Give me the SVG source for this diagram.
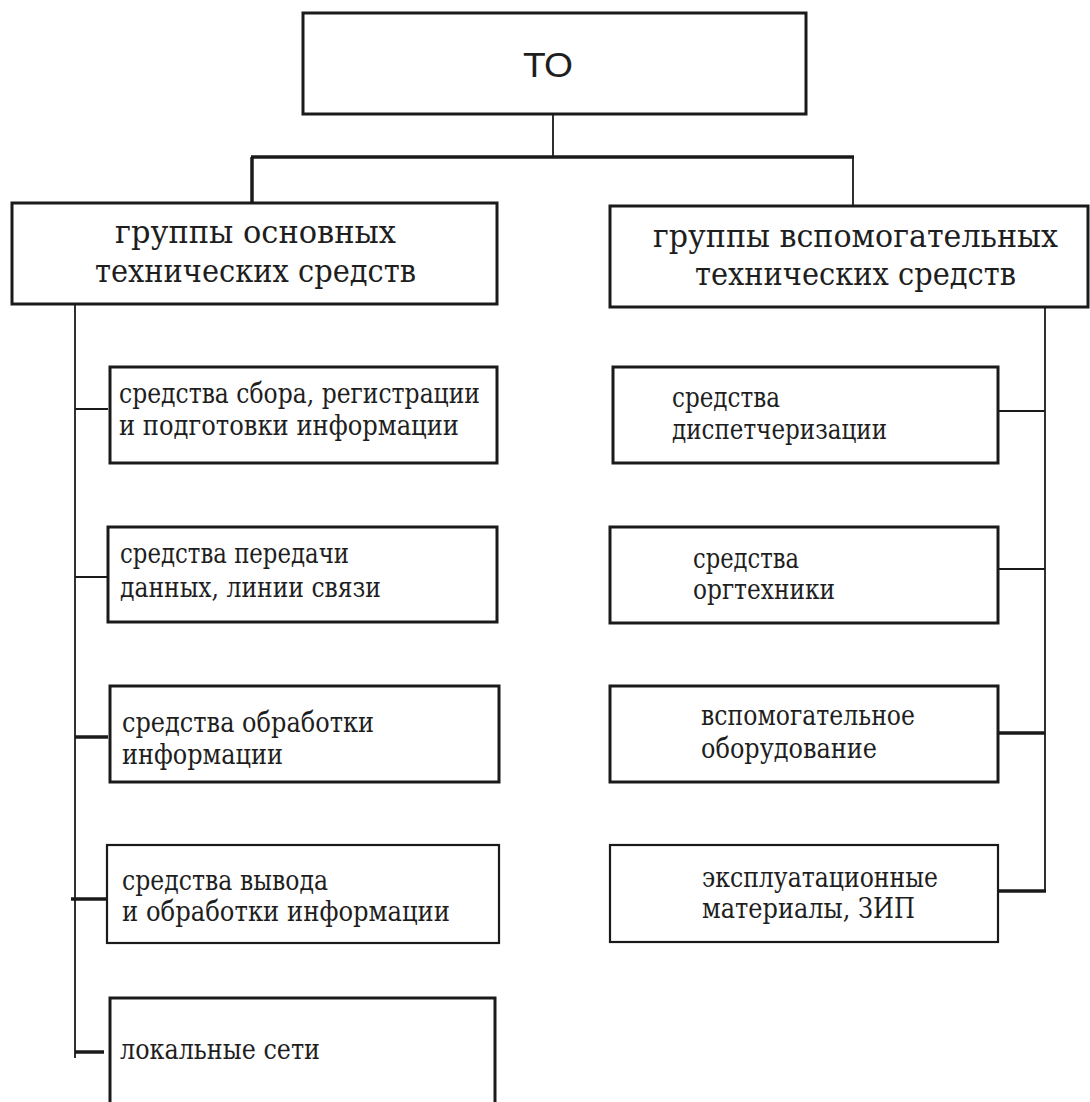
<svg xmlns="http://www.w3.org/2000/svg" width="1090" height="1102" viewBox="0 0 1090 1102">
<style>
.box{fill:#fff;stroke:#1a1a1a;stroke-width:3}
.thin{fill:#fff;stroke:#1a1a1a;stroke-width:2.2}
.ln{stroke:#1a1a1a;stroke-width:1.8;fill:none}
.thick{stroke:#1a1a1a;stroke-width:3.5;fill:none}
text{font-family:"DejaVu Serif","Liberation Serif",serif;fill:#1e1e1e;font-size:27px}
.big{font-size:32px}
.hd{font-family:"Liberation Sans","DejaVu Sans",sans-serif;font-size:35px}
</style>
<rect width="1090" height="1102" fill="#fff"/>
<g id="connectors">
<line class="ln" x1="553" y1="114" x2="553" y2="157"/>
<line class="thick" x1="251" y1="157" x2="854" y2="157"/>
<line class="thick" x1="252" y1="157" x2="252" y2="203"/>
<line class="ln" x1="853" y1="157" x2="853" y2="206"/>
<line class="ln" x1="75" y1="304" x2="75" y2="1058"/>
<line class="ln" x1="75" y1="409" x2="108" y2="409"/>
<line class="ln" x1="75" y1="577" x2="108" y2="577"/>
<line class="thick" x1="75" y1="737" x2="108" y2="737"/>
<line class="thick" x1="71" y1="899" x2="108" y2="899"/>
<line class="thick" x1="75" y1="1052" x2="104" y2="1052"/>
<line class="ln" x1="1045" y1="307" x2="1045" y2="892"/>
<line class="ln" x1="998" y1="411" x2="1045" y2="411"/>
<line class="ln" x1="998" y1="569" x2="1045" y2="569"/>
<line class="thick" x1="998" y1="733" x2="1045" y2="733"/>
<line class="thick" x1="998" y1="891" x2="1046" y2="891"/>
</g>
<g id="to">
<rect class="box" x="303" y="13" width="503" height="101"/>
<text x="523" y="77" textLength="50" lengthAdjust="spacingAndGlyphs" class="hd">ТО</text>
</g>
<g id="osn">
<rect class="box" x="12" y="203" width="485" height="101"/>
<text x="115" y="243" textLength="281" lengthAdjust="spacingAndGlyphs" class="big">группы основных</text>
<text x="95" y="282" textLength="321" lengthAdjust="spacingAndGlyphs" class="big">технических средств</text>
</g>
<g id="vsp">
<rect class="box" x="610" y="206" width="478" height="101"/>
<text x="653" y="247" textLength="405" lengthAdjust="spacingAndGlyphs" class="big">группы вспомогательных</text>
<text x="695" y="285" textLength="321" lengthAdjust="spacingAndGlyphs" class="big">технических средств</text>
</g>
<g id="l1">
<rect class="box" x="110" y="367" width="387" height="96"/>
<text x="119" y="403" textLength="361" lengthAdjust="spacingAndGlyphs">средства сбора, регистрации</text>
<text x="119" y="435" textLength="340" lengthAdjust="spacingAndGlyphs">и подготовки информации</text>
</g>
<g id="l2">
<rect class="box" x="108" y="527" width="389" height="95"/>
<text x="120" y="563" textLength="229" lengthAdjust="spacingAndGlyphs">средства передачи</text>
<text x="120" y="597" textLength="261" lengthAdjust="spacingAndGlyphs">данных, линии связи</text>
</g>
<g id="l3">
<rect class="box" x="110" y="686" width="389" height="96"/>
<text x="122" y="732" textLength="252" lengthAdjust="spacingAndGlyphs">средства обработки</text>
<text x="122" y="764" textLength="161" lengthAdjust="spacingAndGlyphs">информации</text>
</g>
<g id="l4">
<rect class="thin" x="107" y="845" width="392" height="98"/>
<text x="122" y="890" textLength="206" lengthAdjust="spacingAndGlyphs">средства вывода</text>
<text x="122" y="921" textLength="328" lengthAdjust="spacingAndGlyphs">и обработки информации</text>
</g>
<g id="l5">
<rect class="box" x="110" y="998" width="385" height="120"/>
<text x="120" y="1059" textLength="200" lengthAdjust="spacingAndGlyphs">локальные сети</text>
</g>
<g id="r1">
<rect class="box" x="613" y="367" width="385" height="96"/>
<text x="672" y="407" textLength="108" lengthAdjust="spacingAndGlyphs">средства</text>
<text x="672" y="439" textLength="215" lengthAdjust="spacingAndGlyphs">диспетчеризации</text>
</g>
<g id="r2">
<rect class="box" x="610" y="527" width="388" height="96"/>
<text x="693" y="568" textLength="106" lengthAdjust="spacingAndGlyphs">средства</text>
<text x="693" y="599" textLength="142" lengthAdjust="spacingAndGlyphs">оргтехники</text>
</g>
<g id="r3">
<rect class="box" x="610" y="686" width="388" height="96"/>
<text x="701" y="725" textLength="214" lengthAdjust="spacingAndGlyphs">вспомогательное</text>
<text x="701" y="758" textLength="176" lengthAdjust="spacingAndGlyphs">оборудование</text>
</g>
<g id="r4">
<rect class="thin" x="610" y="845" width="388" height="97"/>
<text x="702" y="887" textLength="236" lengthAdjust="spacingAndGlyphs">эксплуатационные</text>
<text x="702" y="918" textLength="213" lengthAdjust="spacingAndGlyphs">материалы, ЗИП</text>
</g>
</svg>
